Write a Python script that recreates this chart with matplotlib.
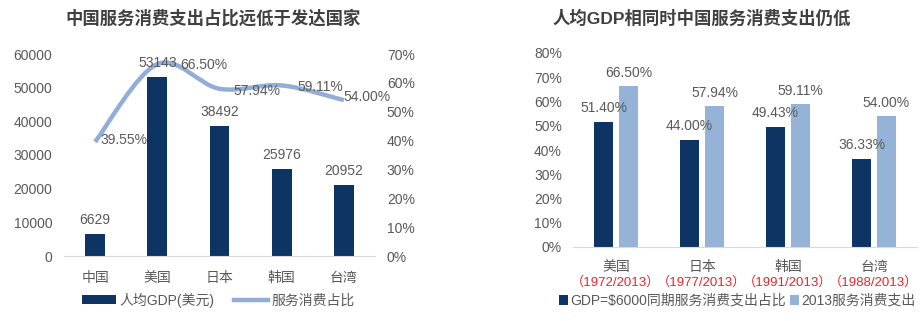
import matplotlib
matplotlib.use("Agg")
import matplotlib.pyplot as plt
from matplotlib.path import Path
from matplotlib.patches import PathPatch, Patch
from matplotlib.lines import Line2D
import numpy as np

plt.rcParams['font.family'] = ['Liberation Sans', 'Noto Sans CJK SC', 'DejaVu Sans']

# ---------------- data ----------------
left_title = "中国服务消费支出占比远低于发达国家"
left_cats = ["中国", "美国", "日本", "韩国", "台湾"]
gdp_per_capita = [6629, 53143, 38492, 25976, 20952]
service_share = [39.55, 66.50, 57.94, 59.11, 54.00]
left_legend = ["人均GDP(美元)", "服务消费占比"]

right_title = "人均GDP相同时中国服务消费支出仍低"
right_cats = ["美国", "日本", "韩国", "台湾"]
right_years = ["（1972/2013）", "（1977/2013）", "（1991/2013）", "（1988/2013）"]
share_at_6000 = [51.40, 44.00, 49.43, 36.33]
share_2013 = [66.50, 57.94, 59.11, 54.00]
right_legend = [r"GDP=\$6000同期服务消费支出占比", "2013服务消费支出"]

# ---------------- style ----------------
DARK = "#0E3463"
LIGHT = "#95B3D7"
LINEC = "#93AED6"
TXT = "#595959"
TITLE = "#404040"
RED = "#E6262B"
AXIS = "#D9D9D9"
FS = 10

W, H = 923, 321
fig = plt.figure(figsize=(W / 100, H / 100), dpi=100)


def fbox(x0, y_top, x1, y_bot):
    return [x0 / W, (H - y_bot) / H, (x1 - x0) / W, (y_bot - y_top) / H]


def clean(ax):
    for s in ax.spines.values():
        s.set_visible(False)


# ---------------- left chart ----------------
ax1 = fig.add_axes(fbox(64, 54, 375, 256))
x = np.arange(len(left_cats))
ax1.bar(x, gdp_per_capita, width=0.32, color=DARK, zorder=2)
ax1.set_xlim(-0.5, len(left_cats) - 0.5)
ax1.set_ylim(0, 60000)
ax1.set_yticks(np.arange(0, 60001, 10000))
ax1.set_xticks(x)
ax1.set_xticklabels(left_cats)
clean(ax1)
ax1.spines['bottom'].set_visible(True)
ax1.spines['bottom'].set_color(AXIS)
ax1.tick_params(axis='both', length=0, labelsize=FS, labelcolor=TXT)
ax1.tick_params(axis='y', pad=8.5)
ax1.tick_params(axis='x', pad=11)

ax2 = ax1.twinx()
ax2.set_ylim(0, 70)
ax2.set_yticks(np.arange(0, 71, 10))
ax2.set_yticklabels([f"{v}%" for v in range(0, 71, 10)])
clean(ax2)
ax2.tick_params(axis='y', length=0, labelsize=FS, labelcolor=TXT, pad=8.5)

# smooth line (Catmull-Rom bezier through the data points)
pts = np.column_stack([x, service_share]).astype(float)
verts = [pts[0]]
codes = [Path.MOVETO]
n = len(pts)
for i in range(n - 1):
    p0 = pts[i - 1] if i > 0 else pts[i]
    p1 = pts[i]
    p2 = pts[i + 1]
    p3 = pts[i + 2] if i + 2 < n else pts[i + 1]
    c1 = p1 + (p2 - p0) / 6.0
    c2 = p2 - (p3 - p1) / 6.0
    verts += [c1, c2, p2]
    codes += [Path.CURVE4] * 3
ax2.add_patch(PathPatch(Path(verts, codes), facecolor='none', edgecolor=LINEC,
                        lw=3.2, capstyle='butt', zorder=3))

for xi, v in zip(x, gdp_per_capita):
    ax2.annotate(f"{v}", xy=(xi, v / 60000 * 70), xytext=(0, 7),
                 textcoords='offset pixels', ha='center', va='bottom',
                 fontsize=FS, color=TXT, zorder=5)

line_offsets = [(5, 2), (23, -1), (14, -2), (16, -2), (0, 3)]
for xi, v, off in zip(x, service_share, line_offsets):
    ax2.annotate(f"{v:.2f}%", xy=(xi, v), xytext=off,
                 textcoords='offset pixels', ha='left', va='center',
                 fontsize=FS, color=TXT, zorder=5)

fig.text(213 / W, 1 - 18 / H, left_title, ha='center', va='center',
         fontsize=12.5, fontweight='bold', color=TITLE)

h1 = Patch(facecolor=DARK, edgecolor='none')
h2 = Line2D([], [], color=LINEC, lw=3.2)
fig.legend([h1, h2], left_legend, loc='center', bbox_to_anchor=(218 / W, 1 - 300 / H),
           ncol=2, frameon=False, fontsize=FS, labelcolor=TXT,
           handlelength=2.5, handleheight=0.6, handletextpad=0.2,
           columnspacing=1.4, borderpad=0, borderaxespad=0)

# ---------------- right chart ----------------
ax3 = fig.add_axes(fbox(573, 53, 917, 247))
xr = np.arange(len(right_cats))
bw = 0.23
off = 0.145
ax3.bar(xr - off, share_at_6000, width=bw, color=DARK, zorder=2)
ax3.bar(xr + off, share_2013, width=bw, color=LIGHT, zorder=2)
ax3.set_xlim(-0.5, len(right_cats) - 0.5)
ax3.set_ylim(0, 80)
ax3.set_yticks(np.arange(0, 81, 10))
ax3.set_yticklabels([f"{v}%" for v in range(0, 81, 10)])
ax3.set_xticks(xr)
ax3.set_xticklabels(right_cats)
clean(ax3)
ax3.spines['bottom'].set_visible(True)
ax3.spines['bottom'].set_color(AXIS)
ax3.tick_params(axis='both', length=0, labelsize=FS, labelcolor=TXT)
ax3.tick_params(axis='y', pad=8)
ax3.tick_params(axis='x', pad=9)

for xi, v in zip(xr, share_at_6000):
    ax3.annotate(f"{v:.2f}%", xy=(xi - off, v), xytext=(0, 7),
                 textcoords='offset pixels', ha='center', va='bottom',
                 fontsize=FS, color=TXT)
for xi, v in zip(xr, share_2013):
    ax3.annotate(f"{v:.2f}%", xy=(xi + off, v), xytext=(0, 6),
                 textcoords='offset pixels', ha='center', va='bottom',
                 fontsize=FS, color=TXT)
for xi, yl in zip(xr, right_years):
    ax3.annotate(yl, xy=(xi, 0), xytext=(0, -35), textcoords='offset pixels',
                 ha='center', va='center', fontsize=9.5, color=RED)

fig.text(702 / W, 1 - 18 / H, right_title, ha='center', va='center',
         fontsize=12.5, fontweight='bold', color=TITLE)

r1 = Patch(facecolor=DARK, edgecolor='none')
r2 = Patch(facecolor=LIGHT, edgecolor='none')
fig.legend([r1, r2], right_legend, loc='center', bbox_to_anchor=(737 / W, 1 - 301 / H),
           ncol=2, frameon=False, fontsize=FS, labelcolor=TXT,
           handlelength=0.65, handleheight=0.65, handletextpad=0.15,
           columnspacing=0.3, borderpad=0, borderaxespad=0)

fig.savefig("out.png", dpi=100, facecolor='white')
